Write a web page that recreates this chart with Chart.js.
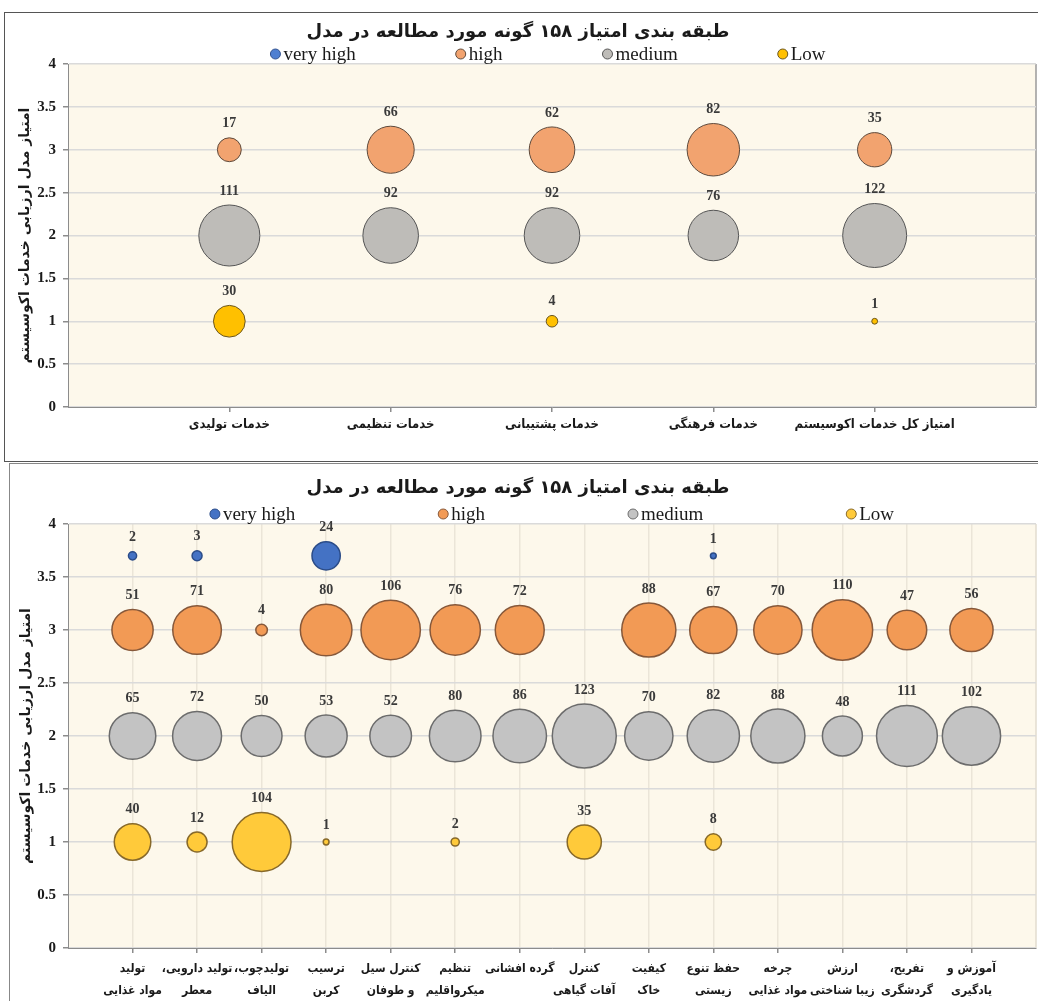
<!DOCTYPE html>
<html lang="fa">
<head>
<meta charset="utf-8">
<title>طبقه بندی امتیاز گونه ها</title>
<script src="https://cdn.jsdelivr.net/npm/chart.js@4.4.1/dist/chart.umd.min.js"></script>
<style>
  html, body { margin: 0; padding: 0; background: #fff; }
  body { position: relative; width: 1038px; height: 1001px; overflow: hidden; }
  .panel { position: absolute; border: 1px solid #555; }
  #panelTop { left: 4px; top: 12px; width: 1040px; height: 448px; }
  #panelBottom { left: 9px; top: 463px; width: 1040px; height: 600px; border-color: #888; }
  canvas { position: absolute; left: 0; direction: rtl; }
  #chartTop { top: 14px; }
  #chartBottom { top: 465px; }
</style>
</head>
<body>
<div class="panel" id="panelTop"></div>
<div class="panel" id="panelBottom"></div>
<canvas id="chartTop" width="1038" height="447" dir="rtl"></canvas>
<canvas id="chartBottom" width="1038" height="536" dir="rtl"></canvas>
<script>
// --- data ---
const chartTitle = 'طبقه بندی امتیاز ۱۵۸ گونه مورد مطالعه در مدل';
const axisTitle = 'امتیاز مدل ارزیابی خدمات اکوسیستم';
const seriesNames = ['very high', 'high', 'medium', 'Low'];
const seriesLevels = [3.7, 3, 2, 1];

// grouped services (upper chart)
const groupLabels = ['خدمات تولیدی', 'خدمات تنظیمی', 'خدمات پشتیبانی', 'خدمات فرهنگی', 'امتیاز کل خدمات اکوسیستم'];
const groupVeryHigh = [null, null, null, null, null];
const groupHigh = [17, 66, 62, 82, 35];
const groupMedium = [111, 92, 92, 76, 122];
const groupLow = [30, null, 4, null, 1];

// individual services (lower chart)
const serviceLabels = [
  ['تولید', 'مواد غذایی'],
  ['تولید دارویی،', 'معطر'],
  ['تولیدچوب،', 'الیاف'],
  ['ترسیب', 'کربن'],
  ['کنترل سیل', 'و طوفان'],
  ['تنظیم', 'میکرواقلیم'],
  ['گرده افشانی', ''],
  ['کنترل', 'آفات گیاهی'],
  ['کیفیت', 'خاک'],
  ['حفظ تنوع', 'زیستی'],
  ['چرخه', 'مواد غذایی'],
  ['ارزش', 'زیبا شناختی'],
  ['تفریح،', 'گردشگری'],
  ['آموزش و', 'یادگیری']
];
const serviceVeryHigh = [2, 3, null, 24, null, null, null, null, null, 1, null, null, null, null];
const serviceHigh = [51, 71, 4, 80, 106, 76, 72, null, 88, 67, 70, 110, 47, 56];
const serviceMedium = [65, 72, 50, 53, 52, 80, 86, 123, 70, 82, 88, 48, 111, 102];
const serviceLow = [40, 12, 104, 1, null, 2, null, 35, null, 8, null, null, null, null];

const yMin = 0, yMax = 4, yStep = 0.5;

// bubble area proportional to species count, largest bubble ~32px radius
const MAX_RADIUS = 32;

function toBubbles(values, level, maxValue) {
  const pts = [];
  values.forEach((v, i) => {
    if (v === null) return;
    pts.push({ x: i + 1, y: level, r: MAX_RADIUS * Math.sqrt(v / maxValue), v: v });
  });
  return pts;
}

// cream plot background + right edge
const plotBackground = {
  id: 'plotBackground',
  beforeDraw(chart, args, opts) {
    const { ctx, chartArea: a } = chart;
    ctx.save();
    ctx.fillStyle = opts.color;
    ctx.fillRect(a.left, a.top, a.right - a.left, a.bottom - a.top);
    ctx.strokeStyle = opts.edge;
    ctx.lineWidth = 1.5;
    ctx.beginPath();
    ctx.moveTo(a.right, a.top);
    ctx.lineTo(a.right, a.bottom);
    ctx.stroke();
    ctx.restore();
  }
};

// one-row legend with wide spacing
const legendRow = {
  id: 'legendRow',
  afterDraw(chart, args, opts) {
    const { ctx, chartArea: a } = chart;
    const items = chart.data.datasets.map(ds => ({ text: ds.label, fill: ds.backgroundColor, stroke: ds.borderColor }));
    const r = 5, gap = 3;
    ctx.save();
    ctx.font = "19px 'Liberation Serif'";
    const widths = items.map(it => 2 * r + gap + ctx.measureText(it.text).width);
    const total = widths.reduce((s, w) => s + w, 0) + opts.spacing * (items.length - 1);
    let x = (a.left + a.right) / 2 - total / 2 + opts.shift;
    const y = a.top - 10;
    items.forEach((it, i) => {
      ctx.beginPath();
      ctx.arc(x + r, y, r, 0, Math.PI * 2);
      ctx.fillStyle = it.fill;
      ctx.fill();
      ctx.lineWidth = 1;
      ctx.strokeStyle = it.stroke;
      ctx.stroke();
      ctx.fillStyle = '#1a1a1a';
      ctx.textAlign = 'left';
      ctx.textBaseline = 'middle';
      ctx.fillText(it.text, x + 2 * r + gap, y + 1);
      x += widths[i] + opts.spacing;
    });
    ctx.restore();
  }
};

// count above each bubble
const bubbleValues = {
  id: 'bubbleValues',
  afterDatasetsDraw(chart) {
    const ctx = chart.ctx;
    ctx.save();
    ctx.font = "bold 14px 'Liberation Serif'";
    ctx.fillStyle = '#3a3a3a';
    ctx.textAlign = 'center';
    ctx.textBaseline = 'middle';
    chart.data.datasets.forEach((ds, di) => {
      chart.getDatasetMeta(di).data.forEach((el, i) => {
        ctx.fillText(String(ds.data[i].v), el.x, el.y - el.options.radius - 14);
      });
    });
    ctx.restore();
  }
};

function buildChart(canvasId, cfg) {
  const persianFont = "'DejaVu Sans Condensed', 'DejaVu Sans'";
  return new Chart(document.getElementById(canvasId), {
    type: 'bubble',
    data: { datasets: cfg.datasets },
    options: {
      responsive: false,
      animation: false,
      events: [],
      layout: { autoPadding: false, padding: { left: 0, right: 2, top: 0, bottom: 0 } },
      elements: { point: { hoverRadius: 0 } },
      plugins: {
        legend: { display: false },
        tooltip: { enabled: false },
        title: {
          display: true,
          text: chartTitle,
          color: '#1a1a1a',
          font: { family: "'DejaVu Sans'", size: 18, weight: 'bold', lineHeight: 1.2 },
          padding: cfg.titlePadding
        },
        plotBackground: { color: '#fdf8eb', edge: cfg.edgeColor },
        legendRow: { spacing: cfg.legendSpacing, shift: cfg.legendShift }
      },
      scales: {
        x: {
          type: 'linear',
          min: 0,
          max: cfg.xMax,
          afterBuildTicks(scale) {
            scale.ticks = cfg.labels.map((_, i) => ({ value: i + 1 }));
          },
          afterFit(scale) { scale.height = cfg.xHeight; },
          ticks: {
            autoSkip: false,
            maxRotation: 0,
            minRotation: 0,
            padding: cfg.xTickPadding,
            color: '#1a1a1a',
            font: { family: persianFont, size: cfg.xFontSize, weight: 'bold', lineHeight: cfg.xLineHeight },
            callback: (value, index) => cfg.labels[index]
          },
          grid: {
            drawOnChartArea: cfg.verticalGrid,
            color: '#ebe5d8',
            lineWidth: 1.5,
            tickLength: 5,
            tickColor: '#8c8c8c'
          },
          border: { color: '#8c8c8c', width: 1 }
        },
        y: {
          min: yMin,
          max: yMax,
          afterFit(scale) { scale.width = 68; },
          ticks: {
            stepSize: yStep,
            padding: 7,
            color: '#1a1a1a',
            font: { family: 'Liberation Serif', size: 15, weight: 'bold' },
            callback: (value) => String(value)
          },
          grid: { color: '#dadada', lineWidth: 1.5, tickLength: 5, tickColor: '#8c8c8c' },
          border: { color: '#8c8c8c', width: 1 },
          title: {
            display: true,
            text: axisTitle,
            color: '#1a1a1a',
            font: { family: "'DejaVu Sans'", size: 14, weight: 'bold', lineHeight: 1.2 },
            padding: { top: cfg.yTitleOffset, bottom: 0 }
          }
        }
      }
    },
    plugins: [plotBackground, bubbleValues, legendRow]
  });
}

// upper chart: service groups
const groupMax = Math.max(...groupHigh, ...groupMedium, ...groupLow.filter(v => v !== null));
const groupColors = [
  ['#4f7fd1', '#34538f'],
  ['#f2a36f', '#5e4a3c'],
  ['#bebcb8', '#555555'],
  ['#ffc000', '#6a5620']
];
const groupSeries = [groupVeryHigh, groupHigh, groupMedium, groupLow];

buildChart('chartTop', {
  labels: groupLabels,
  xMax: groupLabels.length + 1,
  xHeight: 54,
  xTickPadding: 5,
  xFontSize: 13,
  xLineHeight: 1.2,
  verticalGrid: false,
  edgeColor: '#9a9a9a',
  legendSpacing: 100,
  legendShift: -4,
  titlePadding: { top: 8, bottom: 20.4 },
  yTitleOffset: 17,
  datasets: groupSeries.map((vals, i) => ({
    label: seriesNames[i],
    data: toBubbles(vals, seriesLevels[i], groupMax),
    backgroundColor: groupColors[i][0],
    borderColor: groupColors[i][1],
    borderWidth: 1
  }))
});

// lower chart: individual services
const serviceMax = Math.max(...serviceMedium);
const serviceColors = [
  ['#4472c4', '#2b4c88'],
  ['#f29a55', '#86583a'],
  ['#c3c3c3', '#6c6c6c'],
  ['#ffca3a', '#87692a']
];
const serviceSeries = [serviceVeryHigh, serviceHigh, serviceMedium, serviceLow];

buildChart('chartBottom', {
  labels: serviceLabels,
  xMax: serviceLabels.length + 1,
  xHeight: 53,
  xTickPadding: 5,
  xFontSize: 12,
  xLineHeight: 1.8,
  verticalGrid: true,
  edgeColor: '#e2dccf',
  legendSpacing: 143,
  legendShift: 0,
  titlePadding: { top: 13, bottom: 24.4 },
  yTitleOffset: 18,
  datasets: serviceSeries.map((vals, i) => ({
    label: seriesNames[i],
    data: toBubbles(vals, seriesLevels[i], serviceMax),
    backgroundColor: serviceColors[i][0],
    borderColor: serviceColors[i][1],
    borderWidth: 1.5
  }))
});
</script>
</body>
</html>
